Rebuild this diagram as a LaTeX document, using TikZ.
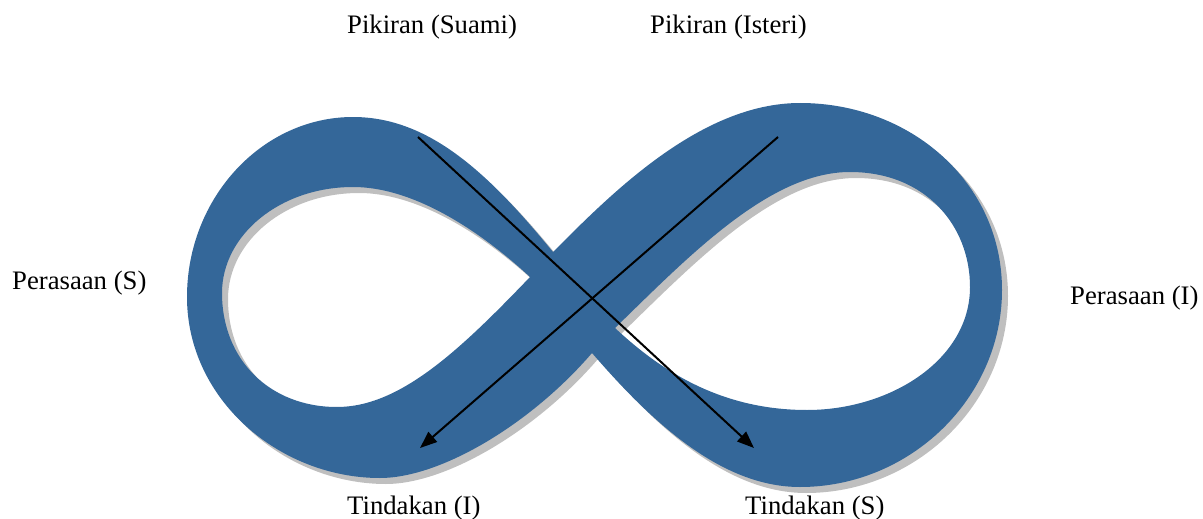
\documentclass[tikz,border=0pt]{standalone}
\usepackage{fontspec}
\setmainfont{Liberation Serif}
\usetikzlibrary{arrows.meta}
\definecolor{bandblue}{RGB}{52,103,153}
\definecolor{bandshadow}{RGB}{191,191,191}
\tikzset{
  % figure-eight band: outer outline plus the two loop holes
  infshape/.style={insert path={
    (553,252) .. controls (490,175) and (430,117) .. (353,117)
    .. controls (262,117) and (187,198) .. (187,297)
    .. controls (187,400) and (280,478) .. (380,478)
    .. controls (440,478) and (530,425) .. (592,353)
    .. controls (650,420) and (720,487) .. (800,487)
    .. controls (910,487) and (1002,398) .. (1002,290)
    .. controls (1002,182) and (910,103) .. (800,103)
    .. controls (700,103) and (610,195) .. (553,252) -- cycle
    (353,187) .. controls (420,187) and (490,240) .. (530,277)
    .. controls (460,350) and (400,407) .. (337,407)
    .. controls (270,407) and (222,360) .. (222,293)
    .. controls (222,235) and (280,187) .. (353,187) -- cycle
    (615,328) .. controls (690,255) and (770,172) .. (850,172)
    .. controls (925,172) and (970,225) .. (970,287)
    .. controls (970,360) and (890,410) .. (807,410)
    .. controls (720,410) and (660,370) .. (615,328) -- cycle
  }},
  lbl/.style={font=\fontsize{26.7}{32}\selectfont, inner sep=0pt, anchor=base west},
  flow/.style={line width=2pt, -{Triangle[length=17pt,width=13pt]}},
}
\begin{document}
\begin{tikzpicture}[x=1pt,y=-1pt]
\useasboundingbox (0,0) rectangle (1203,519);

% drop shadow, then the band itself
\fill[bandshadow, even odd rule, shift={(6,6)}] [infshape];
\fill[bandblue, even odd rule] [infshape];

% labels
\node[lbl] (pikS) at (347,34) {Pikiran (Suami)};
\node[lbl] (pikI) at (650,34) {Pikiran (Isteri)};
\node[lbl] (perS) at (12,289) {Perasaan (S)};
\node[lbl] (perI) at (1070,304) {Perasaan (I)};
\node[lbl] (tinI) at (347,514) {Tindakan (I)};
\node[lbl] (tinS) at (745,514) {Tindakan (S)};

% crossing arrows
\coordinate (a1) at (418,137);
\coordinate (b1) at (754,448);
\coordinate (a2) at (778,137);
\coordinate (b2) at (420,448);
\draw[flow] (a1) -- (b1);
\draw[flow] (a2) -- (b2);
\end{tikzpicture}
\end{document}
